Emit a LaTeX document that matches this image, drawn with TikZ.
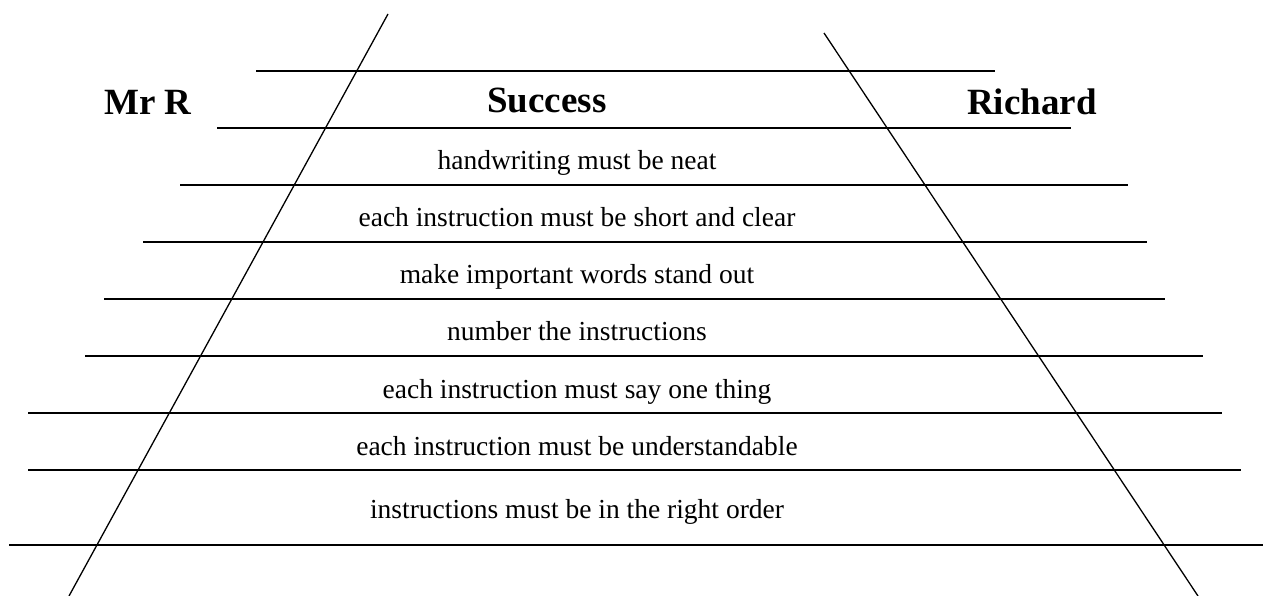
\documentclass[tikz,border=0pt]{standalone}
\usepackage{fontspec}
\setmainfont{Liberation Serif}
\usepackage{tikz}
\usetikzlibrary{positioning}

\begin{document}
\begin{tikzpicture}[x=1bp, y=-1bp]
	\tikzstyle{rule} = [line width=1.7bp, black]
	\tikzstyle{slope} = [line width=1.3bp, black]
	\tikzstyle{head} = [anchor=base, inner sep=0pt, font=\fontsize{37bp}{40bp}\selectfont\bfseries]
	\tikzstyle{item} = [anchor=base, inner sep=0pt, font=\fontsize{27.5bp}{31bp}\selectfont]
	\useasboundingbox (0,0) rectangle (1266,596);
	% headings
	\node (mrR) [head] at (148,115) {Mr R};
	\node (success) [head] at (547,113) {Success};
	\node (richard) [head] at (1032,115) {Richard};
	% criteria
	\node (neat) [item] at (577,170) {handwriting must be neat};
	\node (shortClear) [item] at (577,227) {each instruction must be short and clear};
	\node (standOut) [item] at (577,284) {make important words stand out};
	\node (number) [item] at (577,341) {number the instructions};
	\node (oneThing) [item] at (577,398) {each instruction must say one thing};
	\node (understand) [item] at (577,455) {each instruction must be understandable};
	\node (order) [item] at (577,518) {instructions must be in the right order};
	% horizontal rules
	\coordinate (l1a) at (256,71);   \coordinate (l1b) at (995,71);
	\coordinate (l2a) at (217,128);  \coordinate (l2b) at (1071,128);
	\coordinate (l3a) at (180,185);  \coordinate (l3b) at (1128,185);
	\coordinate (l4a) at (143,242);  \coordinate (l4b) at (1147,242);
	\coordinate (l5a) at (104,299);  \coordinate (l5b) at (1165,299);
	\coordinate (l6a) at (85,356);   \coordinate (l6b) at (1203,356);
	\coordinate (l7a) at (28,413);   \coordinate (l7b) at (1222,413);
	\coordinate (l8a) at (28,470);   \coordinate (l8b) at (1241,470);
	\coordinate (l9a) at (9,545);    \coordinate (l9b) at (1263,545);
	\foreach \i in {1,...,9}
		\draw [rule] (l\i a) -- (l\i b);
	% slanted sides
	\coordinate (leftTop) at (388,14);
	\coordinate (leftBottom) at (69,596);
	\coordinate (rightTop) at (824,33);
	\coordinate (rightBottom) at (1198,596);
	\draw [slope] (leftTop) -- (leftBottom);
	\draw [slope] (rightTop) -- (rightBottom);
\end{tikzpicture}
\end{document}
